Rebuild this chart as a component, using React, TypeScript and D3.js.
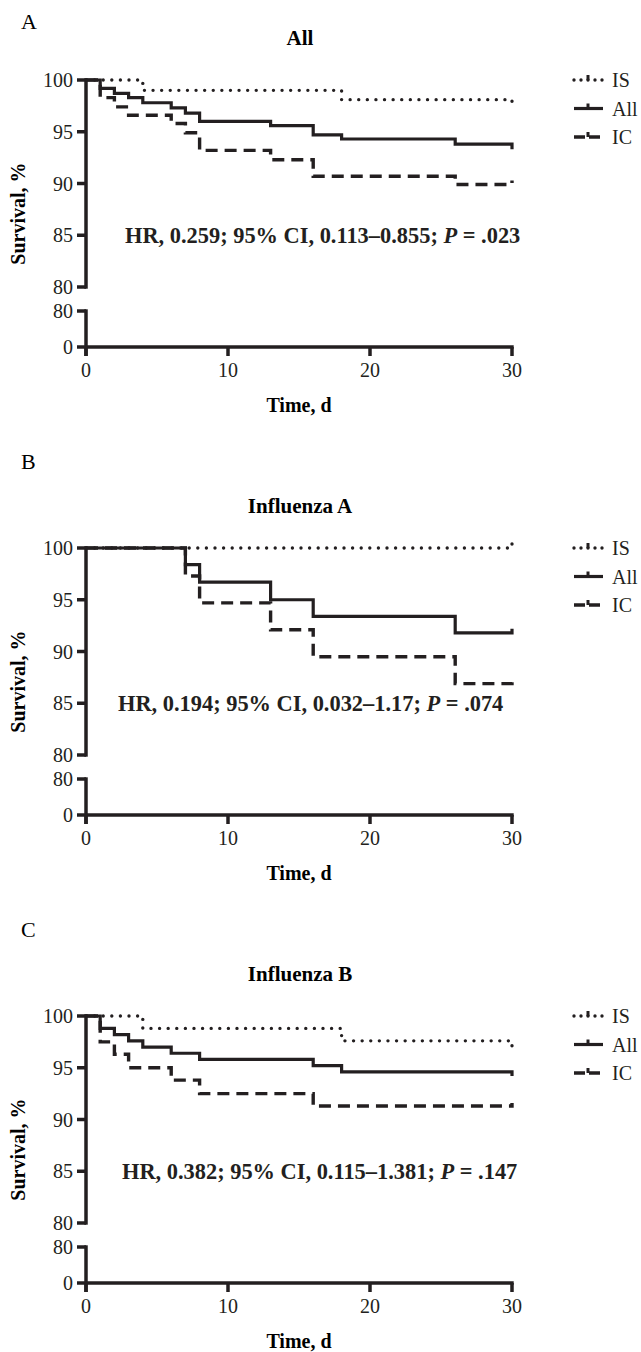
import React from "react";
import * as d3 from "d3";

// survival curves, [day, survival %]
const allIS = [[0, 100], [4, 99.0], [18, 98.1], [30, 97.5]];
const allAll = [[0, 100], [1, 99.2], [2, 98.7], [3, 98.3], [4, 97.8], [6, 97.3], [7, 96.8], [8, 96.0], [13, 95.6], [16, 94.7], [18, 94.3], [26, 93.8], [30, 93.3]];
const allIC = [[0, 100], [1, 98.3], [2, 97.4], [3, 96.6], [6, 95.8], [7, 94.9], [8, 93.2], [13, 92.3], [16, 90.7], [26, 89.9], [30, 90.3]];

const fluAIS = [[0, 100], [30, 100.4]];
const fluAAll = [[0, 100], [7, 98.4], [8, 96.7], [13, 95.0], [16, 93.4], [26, 91.8], [30, 92.2]];
const fluAIC = [[0, 100], [7, 97.3], [8, 94.7], [13, 92.1], [16, 89.5], [26, 86.9], [30, 87.3]];

const fluBIS = [[0, 100], [4, 98.8], [18, 97.6], [30, 96.9]];
const fluBAll = [[0, 100], [1, 98.8], [2, 98.2], [3, 97.6], [4, 97.0], [6, 96.4], [8, 95.8], [16, 95.2], [18, 94.6], [30, 94.2]];
const fluBIC = [[0, 100], [1, 97.5], [2, 96.3], [3, 95.0], [6, 93.8], [8, 92.5], [16, 91.3], [30, 91.6]];

const groups = ["IS", "All", "IC"];
const timeTicks = [0, 10, 20, 30];
const upperTicks = [80, 85, 90, 95, 100];
const lowerTicks = [0, 80];

const panelLetters = ["A", "B", "C"];
const panelTitles = ["All", "Influenza A", "Influenza B"];
const hrTexts = [
  ["HR, 0.259; 95% CI, 0.113–0.855; ", ".023"],
  ["HR, 0.194; 95% CI, 0.032–1.17; ", ".074"],
  ["HR, 0.382; 95% CI, 0.115–1.381; ", ".147"],
];

const INK = "#231f20";
const styles = {
  IS: { dash: "0 8.6", width: 3.4, cap: "round" },
  All: { dash: null, width: 3.2, cap: "butt" },
  IC: { dash: "12 7", width: 3.4, cap: "butt" },
};

const Panel = ({ top, letterY, letter, title, hr, hrX, series }) => {
  const x = d3.scaleLinear().domain([0, 30]).range([86, 512]);
  const yUp = d3.scaleLinear().domain([80, 100]).range([top + 207, top]);
  const yLow = d3.scaleLinear().domain([0, 80]).range([top + 267, top + 231]);
  const line = d3
    .line()
    .x((d) => x(d[0]))
    .y((d) => yUp(d[1]))
    .curve(d3.curveStepAfter);
  const axisX = x(0);
  const y0 = yLow(0);
  return (
    <g>
      <text x={21} y={letterY} fontSize={22}>
        {letter}
      </text>
      <text x={300} y={top - 35} fontSize={21} fontWeight="bold" textAnchor="middle">
        {title}
      </text>

      {/* curves: dotted, dashed, then solid on top */}
      {["IS", "IC", "All"].map((g) => (
        <path
          key={g}
          d={line(series[g])}
          fill="none"
          stroke={INK}
          strokeWidth={styles[g].width}
          strokeDasharray={styles[g].dash || undefined}
          strokeLinecap={styles[g].cap}
        />
      ))}

      {/* upper y axis */}
      <line x1={axisX} x2={axisX} y1={yUp(100) - 1.7} y2={yUp(80) + 1.7} stroke={INK} strokeWidth={3.5} />
      {upperTicks.map((t) => (
        <g key={t}>
          <line x1={axisX - 9} x2={axisX} y1={yUp(t)} y2={yUp(t)} stroke={INK} strokeWidth={3.5} />
          <text x={73} y={yUp(t)} dy="0.35em" fontSize={20} textAnchor="end" fill={INK}>
            {t}
          </text>
        </g>
      ))}

      {/* lower y axis and x axis */}
      <line x1={axisX} x2={axisX} y1={yLow(80) - 1.7} y2={y0 + 9} stroke={INK} strokeWidth={3.5} />
      {lowerTicks.map((t) => (
        <g key={t}>
          <line x1={axisX - 9} x2={axisX} y1={yLow(t)} y2={yLow(t)} stroke={INK} strokeWidth={3.5} />
          <text x={73} y={yLow(t)} dy="0.35em" fontSize={20} textAnchor="end" fill={INK}>
            {t}
          </text>
        </g>
      ))}
      <line x1={axisX} x2={x(30) + 1.7} y1={y0} y2={y0} stroke={INK} strokeWidth={3.5} />
      {timeTicks.map((t) => (
        <g key={t}>
          <line x1={x(t)} x2={x(t)} y1={y0} y2={y0 + 9} stroke={INK} strokeWidth={3.5} />
          <text x={x(t)} y={y0 + 30} fontSize={20} textAnchor="middle" fill={INK}>
            {t}
          </text>
        </g>
      ))}
      <text x={299} y={y0 + 65} fontSize={20} fontWeight="bold" textAnchor="middle">
        Time, d
      </text>
      <text
        transform={`translate(25, ${(yUp(100) + y0) / 2}) rotate(-90)`}
        fontSize={20}
        fontWeight="bold"
        textAnchor="middle"
      >
        Survival, %
      </text>

      <text x={hrX} y={yUp(85) + 8} fontSize={22.4} fontWeight="bold" fill={INK}>
        {hr[0]}
        <tspan fontStyle="italic">P</tspan>
        {" = " + hr[1]}
      </text>

      {/* legend */}
      {groups.map((g, i) => {
        const ly = top + i * 28.5;
        return (
          <g key={g}>
            <line
              x1={574}
              x2={603}
              y1={ly}
              y2={ly}
              stroke={INK}
              strokeWidth={styles[g].width}
              strokeDasharray={g === "IS" ? "0 7" : g === "IC" ? "11 4" : undefined}
              strokeLinecap={styles[g].cap}
            />
            <line x1={588} x2={588} y1={ly - 5} y2={ly} stroke={INK} strokeWidth={3} />
            <text x={612} y={ly} dy="0.35em" fontSize={20} fill={INK}>
              {g}
            </text>
          </g>
        );
      })}
    </g>
  );
};

const panelTops = [80, 548, 1016];
const letterYs = [29, 469, 937];
const panelSeries = [
  { IS: allIS, All: allAll, IC: allIC },
  { IS: fluAIS, All: fluAAll, IC: fluAIC },
  { IS: fluBIS, All: fluBAll, IC: fluBIC },
];
const hrXs = [125, 118, 122];

export default function App() {
  return (
    <div style={{ position: "absolute", left: 0, top: 0 }}>
      <svg width={641} height={1352} style={{ fontFamily: "'Liberation Serif', serif", display: "block" }}>
        <rect width={641} height={1352} fill="#fff" />
        {panelTops.map((t, i) => (
          <Panel
            key={i}
            top={t}
            letterY={letterYs[i]}
            letter={panelLetters[i]}
            title={panelTitles[i]}
            hr={hrTexts[i]}
            hrX={hrXs[i]}
            series={panelSeries[i]}
          />
        ))}
      </svg>
    </div>
  );
}
